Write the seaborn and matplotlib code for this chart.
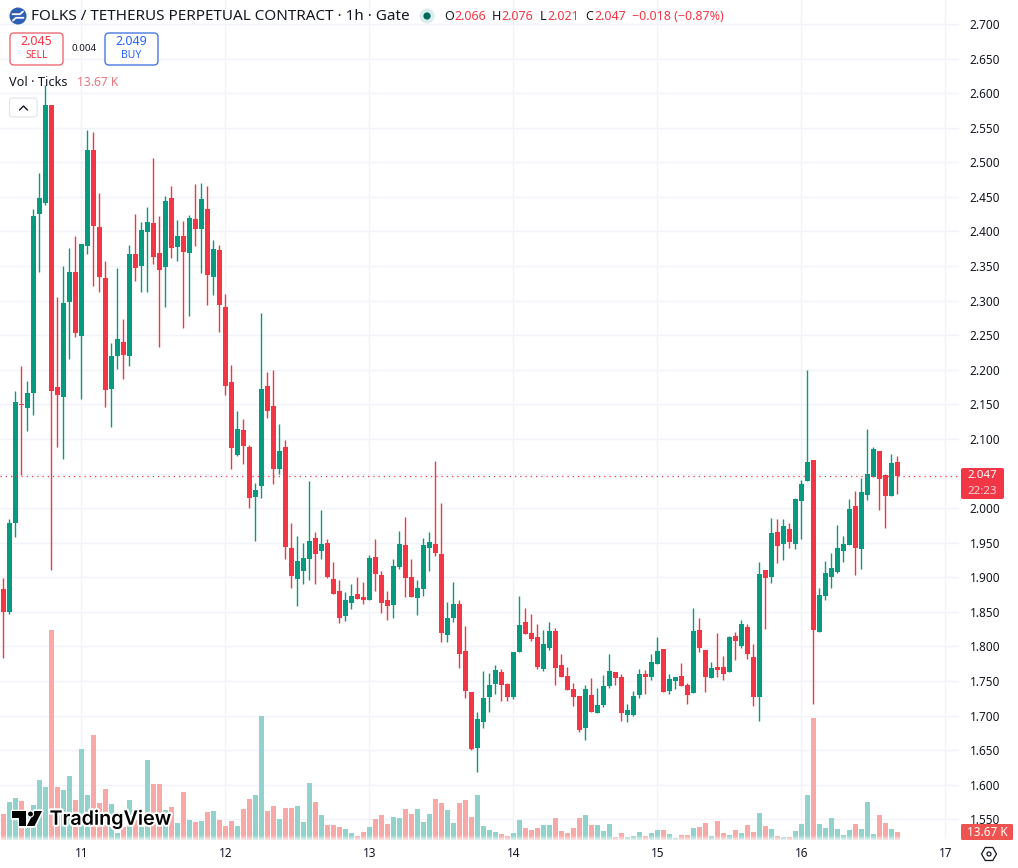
import numpy as np
import pandas as pd
import seaborn as sns
import matplotlib
matplotlib.use("Agg")
import matplotlib.pyplot as plt
import matplotlib.patheffects as pe
from matplotlib.patches import Circle, FancyBboxPatch, Polygon, RegularPolygon

# Hourly FOLKS/USDT perpetual candles
open_prices = [
    1.883,1.850,1.978,2.151,2.145,2.166,2.425,2.441,2.583,2.175,
    2.160,2.298,2.341,2.249,2.379,2.518,2.406,2.333,2.172,2.220,
    2.240,2.220,2.368,2.350,2.399,2.412,2.369,2.348,2.448,2.378,
    2.394,2.369,2.418,2.404,2.432,2.334,2.373,2.291,2.183,2.077,
    2.113,2.088,2.016,2.032,2.177,2.148,2.056,2.088,1.942,1.897,
    1.909,1.926,1.957,1.938,1.949,1.897,1.880,1.844,1.863,1.876,
    1.871,1.867,1.929,1.903,1.867,1.860,1.915,1.947,1.900,1.870,
    1.883,1.942,1.948,1.934,1.816,1.841,1.861,1.793,1.734,1.653,
    1.691,1.727,1.746,1.763,1.746,1.727,1.792,1.835,1.819,1.813,
    1.767,1.798,1.822,1.773,1.757,1.738,1.728,1.682,1.730,1.704,
    1.715,1.743,1.763,1.756,1.701,1.701,1.730,1.760,1.756,1.775,
    1.796,1.735,1.750,1.757,1.744,1.733,1.824,1.795,1.754,1.770,
    1.770,1.763,1.815,1.800,1.828,1.785,1.727,1.910,1.900,1.965,
    1.948,1.970,1.948,2.010,2.039,2.070,1.821,1.873,1.900,1.908,
    1.938,1.947,2.003,1.941,2.019,2.045,2.082,2.048,2.017,2.066]
high_prices = [
    1.899,1.984,2.169,2.205,2.184,2.432,2.485,2.612,2.583,2.305,
    2.350,2.376,2.394,2.382,2.547,2.544,2.456,2.357,2.239,2.347,
    2.274,2.380,2.425,2.413,2.435,2.506,2.422,2.451,2.466,2.417,
    2.415,2.424,2.469,2.470,2.466,2.388,2.380,2.310,2.207,2.140,
    2.129,2.091,2.036,2.282,2.197,2.200,2.122,2.098,1.978,1.960,
    1.949,2.039,1.965,1.997,1.955,1.922,1.896,1.879,1.890,1.900,
    1.893,1.932,1.955,1.909,1.880,1.926,1.967,1.987,1.926,1.896,
    1.957,1.965,2.068,2.007,1.864,1.893,1.867,1.830,1.734,1.705,
    1.764,1.761,1.773,1.767,1.747,1.792,1.873,1.855,1.847,1.832,
    1.824,1.835,1.827,1.789,1.770,1.747,1.728,1.744,1.754,1.740,
    1.759,1.789,1.763,1.760,1.717,1.735,1.767,1.766,1.789,1.813,
    1.796,1.760,1.756,1.776,1.747,1.855,1.841,1.795,1.777,1.819,
    1.786,1.815,1.821,1.838,1.832,1.803,1.922,1.910,1.986,1.984,
    1.984,1.978,2.015,2.041,2.200,2.070,1.885,1.923,1.935,1.975,
    1.960,2.013,2.025,2.043,2.114,2.088,2.082,2.049,2.078,2.076]
low_prices = [
    1.783,1.847,1.958,2.048,2.111,2.135,2.341,2.438,1.910,2.088,
    2.071,2.216,2.247,2.158,2.368,2.321,2.312,2.146,2.117,2.201,
    2.187,2.205,2.328,2.312,2.312,2.353,2.233,2.291,2.362,2.357,
    2.260,2.278,2.379,2.340,2.294,2.308,2.255,2.163,2.056,2.075,
    2.064,2.000,1.952,2.015,2.130,2.035,2.049,1.926,1.885,1.859,
    1.890,1.896,1.890,1.926,1.899,1.876,1.834,1.837,1.854,1.869,
    1.861,1.867,1.880,1.848,1.838,1.841,1.912,1.871,1.871,1.846,
    1.873,1.909,1.931,1.806,1.806,1.835,1.769,1.725,1.650,1.618,
    1.682,1.705,1.731,1.721,1.721,1.724,1.792,1.818,1.808,1.767,
    1.764,1.795,1.744,1.756,1.737,1.714,1.676,1.665,1.705,1.704,
    1.712,1.740,1.744,1.692,1.691,1.699,1.725,1.731,1.751,1.775,
    1.734,1.731,1.738,1.743,1.717,1.733,1.792,1.734,1.754,1.756,
    1.751,1.763,1.780,1.798,1.782,1.714,1.692,1.825,1.892,1.921,
    1.925,1.942,1.941,1.955,2.039,1.717,1.821,1.867,1.885,1.906,
    1.922,1.947,1.903,1.912,2.012,2.045,1.997,1.971,2.017,2.021]
close_prices = [
    1.850,1.978,2.153,2.149,2.166,2.422,2.448,2.583,2.169,2.163,
    2.297,2.341,2.253,2.382,2.518,2.408,2.334,2.171,2.220,2.245,
    2.221,2.368,2.347,2.402,2.413,2.363,2.344,2.444,2.376,2.394,
    2.370,2.420,2.404,2.447,2.337,2.375,2.294,2.177,2.087,2.114,
    2.090,2.015,2.026,2.172,2.140,2.056,2.082,1.944,1.902,1.923,
    1.928,1.952,1.934,1.948,1.900,1.876,1.841,1.867,1.873,1.869,
    1.867,1.928,1.905,1.863,1.859,1.916,1.948,1.899,1.871,1.885,
    1.947,1.951,1.935,1.819,1.841,1.861,1.789,1.735,1.652,1.695,
    1.725,1.744,1.766,1.744,1.727,1.792,1.831,1.818,1.811,1.770,
    1.803,1.822,1.769,1.756,1.737,1.727,1.679,1.738,1.705,1.715,
    1.743,1.764,1.754,1.704,1.708,1.728,1.760,1.756,1.777,1.793,
    1.734,1.753,1.756,1.743,1.730,1.822,1.798,1.756,1.769,1.766,
    1.760,1.813,1.808,1.832,1.789,1.727,1.905,1.899,1.964,1.945,
    1.974,1.951,2.013,2.035,2.067,1.824,1.874,1.906,1.913,1.942,
    1.948,1.999,1.942,2.023,2.049,2.085,2.042,2.017,2.065,2.047]
# Tick volume in thousands
volume_k = [
    44.5,65,71.8,66.7,42.8,59.9,102.6,90.6,359,90.6,
    85.5,110,68.4,155.6,77,179.6,63.3,87.2,61.6,11.4,
    22.8,68.4,34.2,22.8,136.8,95.8,95.8,51.3,56.4,29.1,
    82.7,34.2,30.8,32.5,47.9,49.6,34.2,23.9,32.5,23.9,
    53,70.1,77,212,49.6,58.1,35.9,54.7,54.7,58.1,
    30.8,96.9,65,42.8,25.7,25.7,22.2,18.8,12,6.8,
    13.7,22.2,35.9,42.8,27.4,39.3,37.6,53,44.5,53,
    30.8,44.5,70.1,63.3,51.3,29.1,63.3,68.4,39.3,77,
    23.9,17.1,13.7,10.3,6.8,12,34.2,20.5,17.1,20.5,
    25.7,25.7,37.6,15.4,12,20.5,37.6,42.8,25.7,25.7,
    15.4,27.4,5.1,12,5.1,6.8,13.7,6.8,12,17.1,
    17.1,10.3,3.4,8.6,8.6,20.5,22.2,29.1,6.8,32.5,
    12,8.6,17.1,12,25.7,13.7,46.2,23.9,18.8,6.8,
    5.1,5.1,15.4,27.4,77,208,27.4,20.5,37.6,18.8,
    8.6,17.1,27.4,18.8,65,10.3,42.8,29.1,18.8,13.67]

day_labels = ["11", "12", "13", "14", "15", "16", "17"]
first_midnight_bar = 13
price_ticks = [round(1.55 + 0.05 * k, 2) for k in range(24)]
last_price = 2.047

UP = "#089981"
DOWN = "#F23645"
VOL_UP = "#92D2CC"
VOL_DOWN = "#F7A9A7"
GRID = "#F0F3FA"
INK = "#131722"
FONT = "Noto Sans"

W, H = 1018, 868
PLOT_R, PLOT_B = 959, 841
BAR_RANGE = (-0.55, 159.28)
PRICE_RANGE = (1.5186, 2.7347)
day_ticks = [first_midnight_bar + 24 * k for k in range(len(day_labels))]
# The last-price tag sits over this level, so its scale label stays blank
price_tick_labels = ["" if t == 2.05 else f"{t:.3f}" for t in price_ticks]

df = pd.DataFrame({"bar": np.arange(len(open_prices)), "open": open_prices, "high": high_prices,
                   "low": low_prices, "close": close_prices, "volume": volume_k})
df["up"] = df["close"] >= df["open"]
df["bottom"] = df[["open", "close"]].min(axis=1)
df["body"] = (df["open"] - df["close"]).abs().clip(lower=0.0015)

sns.set_theme(style="white")
plt.rcParams["font.family"] = [FONT, "DejaVu Sans"]

fig = plt.figure(figsize=(W / 100, H / 100), dpi=100, facecolor="white")
rect = [0, (H - PLOT_B) / H, PLOT_R / W, PLOT_B / H]

# Grid layer at the very back, so volume bars cover the lines
ax_grid = fig.add_axes(rect, zorder=0)
ax_grid.set_xlim(*BAR_RANGE)
ax_grid.set_ylim(*PRICE_RANGE)
ax_grid.set_xticks(day_ticks, [""] * len(day_ticks))
ax_grid.set_yticks(price_ticks, [""] * len(price_ticks))
ax_grid.tick_params(length=0)
ax_grid.grid(True, color=GRID, lw=1.0)
for spine in ax_grid.spines.values():
    spine.set_visible(False)

# Volume pane shares the plot rectangle and sits behind the candles
ax_vol = fig.add_axes(rect, zorder=1)
for is_up, colour in [(True, VOL_UP), (False, VOL_DOWN)]:
    part = df[df["up"] == is_up]
    sns.barplot(data=part, x="bar", y="volume", native_scale=True, color=colour, saturation=1,
                width=0.84, errorbar=None, linewidth=0, ax=ax_vol)
ax_vol.set_xlim(*BAR_RANGE)
ax_vol.set_ylim(-1.7, 1435)
ax_vol.axis("off")

ax = fig.add_axes(rect, zorder=2)
ax.patch.set_visible(False)
ax.vlines(df["bar"][df["up"]], df["low"][df["up"]], df["high"][df["up"]], color=UP, lw=1.0, zorder=3)
ax.vlines(df["bar"][~df["up"]], df["low"][~df["up"]], df["high"][~df["up"]], color=DOWN, lw=1.0, zorder=3)
for is_up, colour in [(True, UP), (False, DOWN)]:
    part = df[df["up"] == is_up]
    sns.barplot(data=part, x="bar", y="body", bottom=part["bottom"].to_numpy(), native_scale=True,
                color=colour, saturation=1, width=0.84, errorbar=None, linewidth=0, zorder=4, ax=ax)
ax.axhline(last_price, color=DOWN, lw=0.9, ls=(0, (1, 3.2)), zorder=5)

ax.set_xlim(*BAR_RANGE)
ax.set_ylim(*PRICE_RANGE)
ax.set_xlabel("")
ax.set_ylabel("")
ax.set_xticks(day_ticks, day_labels)
ax.set_yticks(price_ticks, price_tick_labels)
ax.yaxis.tick_right()
ax.tick_params(axis="both", length=0, labelsize=8.5, labelcolor=INK)
ax.tick_params(axis="y", pad=7.8)
ax.tick_params(axis="x", pad=4.5)
ax.grid(False)
for spine in ax.spines.values():
    spine.set_visible(False)

# Interface overlay drawn in screen pixels
ui = fig.add_axes([0, 0, 1, 1], zorder=5)
ui.patch.set_visible(False)

# Volume bars fade out just above the time scale
fade = np.linspace(0, 1, 16).reshape(-1, 1)
fade_rgba = np.dstack([np.ones_like(fade)] * 3 + [fade])
ui.imshow(fade_rgba, extent=(0, PLOT_R, 842, 835), aspect="auto", zorder=1, interpolation="bilinear")

ui.set_xlim(0, W)
ui.set_ylim(H, 0)
ui.axis("off")


def label(x, y, s, size=8.5, colour=INK, ha="left", **kw):
    return ui.text(x, y, s, fontsize=size, color=colour, ha=ha, va="center", zorder=6, **kw)


def box(x0, y0, x1, y1, face, edge="none", pad=3, lw=1.0):
    ui.add_patch(FancyBboxPatch((x0 + pad, y0 + pad), x1 - x0 - 2 * pad, y1 - y0 - 2 * pad,
                                boxstyle=f"round,pad={pad}", fc=face, ec=edge, lw=lw,
                                mutation_aspect=1, zorder=4))


# Symbol header
ui.add_patch(Circle((18, 16), 8.5, fc="#2F5FB3", ec="none"))
ui.plot([12.5, 20, 23], [14.2, 14.2, 11.5], color="white", lw=1.3, solid_capstyle="round")
ui.plot([13, 16, 23.5], [20.5, 17.8, 17.8], color="white", lw=1.3, solid_capstyle="round")
label(31, 16, "FOLKS / TETHERUS PERPETUAL CONTRACT · 1h · Gate", size=11)
ui.add_patch(Circle((427, 16), 7.5, fc="#D9EEEA", ec="none"))
ui.add_patch(Circle((427, 16), 3.6, fc="#00695C", ec="none"))
for x_letter, letter, x_value, value in [(444, "O", 454, "2.066"), (492, "H", 501.5, "2.076"),
                                         (540, "L", 547, "2.021"), (585, "C", 594, "2.047")]:
    label(x_letter, 16, letter, size=9)
    label(x_value, 16, value, size=9, colour=DOWN)
label(632, 16, "−0.018 (−0.87%)", size=9, colour=DOWN)

# Sell and buy quotes
box(10, 33, 63, 65, "white", "#EE6A76", pad=4)
label(36.5, 41.5, "2.045", size=9, colour=DOWN, ha="center", weight="medium")
label(36.5, 56, "SELL", size=7.5, colour=DOWN, ha="center")
label(84, 48.5, "0.004", size=7, ha="center")
box(105, 33, 158, 65, "white", "#4A78E0", pad=4)
label(131.5, 41.5, "2.049", size=9, colour="#2962FF", ha="center", weight="medium")
label(131.5, 56, "BUY", size=7.5, colour="#2962FF", ha="center")

# Volume legend and collapse button
label(9, 82.5, "Vol · Ticks", size=9.2)
label(77, 82.5, "13.67 K", size=8.7, colour="#E8787C")
box(9.5, 98, 37, 117, "white", "#E0E3EB", pad=3, lw=0.8)
ui.plot([19.5, 23.5, 27.5], [110, 106, 110], color=INK, lw=1.0, zorder=5)

# Last price and volume tags
box(961, 468, 1004, 499, DOWN, pad=2)
label(982.5, 476, "2.047", size=8.3, colour="white", ha="center", weight="bold")
label(982.5, 491, "22:23", size=8.3, colour="#FBD5D8", ha="center")
box(961, 824, 1013, 840, "#EF5350", pad=1.5)
label(987, 832, "13.67 K", size=8.5, colour="white", ha="center", weight="bold")

# Axis settings icon
ui.add_patch(RegularPolygon((989, 854), 6, radius=7.5, orientation=np.pi / 2, fc="white", ec=INK, lw=0.9))
ui.add_patch(Circle((989, 854), 2, fc="white", ec=INK, lw=0.9, zorder=3))

# Watermark
halo = [pe.withStroke(linewidth=3, foreground="white")]
logo_shapes = [
    [(12, 811), (26, 811), (26, 826), (19, 826), (19, 818), (12, 818)],
    [(34.5, 811), (42, 811), (34.5, 826), (26.8, 826)],
]
for pts in logo_shapes:
    ui.add_patch(Polygon(pts, closed=True, fc="white", ec="white", lw=2.5, joinstyle="round", zorder=4))
for pts in logo_shapes:
    ui.add_patch(Polygon(pts, closed=True, fc="black", ec="none", zorder=5))
ui.add_patch(Circle((30.5, 814), 3, fc="black", ec="white", lw=0.8, zorder=5))
ui.text(49.5, 819.5, "TradingView", fontsize=14.2, color="black", weight="semibold", family="Inter",
        ha="left", va="center", path_effects=halo, zorder=6)

fig.savefig("out.png", dpi=100, facecolor="white")
